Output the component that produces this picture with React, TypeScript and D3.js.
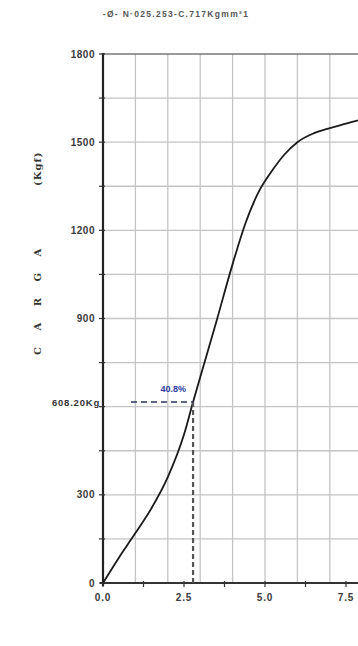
import React, { useRef, useEffect } from "react";
import * as d3 from "d3";

// lectura aproximada de la curva carga-deformacion
const deformacion = [0, 0.5, 1.0, 1.5, 2.0, 2.5, 2.78, 3.0, 3.5, 4.0, 4.4, 4.8, 5.2, 5.6, 6.0, 6.5, 7.0, 7.5, 8.0, 8.5];
const carga = [0, 88, 170, 255, 360, 505, 616, 700, 890, 1085, 1225, 1330, 1400, 1458, 1500, 1530, 1548, 1563, 1578, 1592];

const yTicks = [0, 300, 900, 1200, 1500, 1800];
const xTicks = [0, 2.5, 5, 7.5];
const xGrid = [1, 2, 3, 4, 5, 6, 7, 8, 9];
const yGrid = [150, 300, 450, 600, 750, 900, 1050, 1200, 1350, 1500, 1650];

const titulo = "-Ø- N·025.253-C.717Kgmm²1";
const ejeY = "C A R G A";
const ejeYUnidad = "(Kgf)";
const marcaX = 2.78;
const marcaY = 616;
const etiquetaCarga = "608.20Kg";
const etiquetaPct = "40.8%";

const W = 358;
const H = 646;

const App = () => {
  const ref = useRef<SVGSVGElement>(null);

  useEffect(() => {
    const svg = d3.select(ref.current);
    svg.selectAll("*").remove();

    const x = d3.scaleLinear().domain([0, 10]).range([103, 427]);
    const y = d3.scaleLinear().domain([0, 1800]).range([583, 54]);
    const font = "Arial, 'Liberation Sans', sans-serif";

    svg.append("rect").attr("width", W).attr("height", H).attr("fill", "#fff");

    const g = svg.append("g");

    // rejilla
    g.selectAll(".gx")
      .data(xGrid)
      .join("line")
      .attr("x1", (d) => x(d))
      .attr("x2", (d) => x(d))
      .attr("y1", y(1800))
      .attr("y2", y(0))
      .attr("stroke", "#c4c4c4")
      .attr("stroke-width", 1.3);

    g.selectAll(".gy")
      .data(yGrid)
      .join("line")
      .attr("x1", x(0))
      .attr("x2", W)
      .attr("y1", (d) => y(d))
      .attr("y2", (d) => y(d))
      .attr("stroke", "#c4c4c4")
      .attr("stroke-width", 1.3);

    // borde superior
    g.append("line")
      .attr("x1", x(0))
      .attr("x2", W)
      .attr("y1", y(1800))
      .attr("y2", y(1800))
      .attr("stroke", "#777")
      .attr("stroke-width", 1.6);

    // ejes
    g.append("line")
      .attr("x1", x(0))
      .attr("x2", x(0))
      .attr("y1", y(1800) - 1)
      .attr("y2", y(0) + 3)
      .attr("stroke", "#222")
      .attr("stroke-width", 2.2);
    g.append("line")
      .attr("x1", x(0) - 3)
      .attr("x2", W)
      .attr("y1", y(0))
      .attr("y2", y(0))
      .attr("stroke", "#333")
      .attr("stroke-width", 2.2);

    // marcas y etiquetas eje Y
    g.selectAll(".ty")
      .data(d3.range(0, 1801, 150))
      .join("line")
      .attr("x1", x(0) - 4)
      .attr("x2", x(0) + 2)
      .attr("y1", (d) => y(d))
      .attr("y2", (d) => y(d))
      .attr("stroke", "#333")
      .attr("stroke-width", 1.2);

    g.selectAll(".ly")
      .data(yTicks)
      .join("text")
      .attr("x", x(0) - 8)
      .attr("y", (d) => y(d) + 3.5)
      .attr("text-anchor", "end")
      .style("font-family", font)
      .style("font-size", "10px")
      .style("font-weight", "bold")
      .style("letter-spacing", "0.5px")
      .attr("fill", "#3a3a3a")
      .text((d) => d);

    // marcas y etiquetas eje X
    g.selectAll(".tx")
      .data(d3.range(0, 10.01, 1.25))
      .join("line")
      .attr("x1", (d) => x(d))
      .attr("x2", (d) => x(d))
      .attr("y1", y(0) - 2)
      .attr("y2", y(0) + 4)
      .attr("stroke", "#333")
      .attr("stroke-width", 1.2);

    g.selectAll(".lx")
      .data(xTicks)
      .join("text")
      .attr("x", (d) => x(d))
      .attr("y", y(0) + 18)
      .attr("text-anchor", "middle")
      .style("font-family", font)
      .style("font-size", "10px")
      .style("font-weight", "bold")
      .style("letter-spacing", "0.8px")
      .attr("fill", "#3a3a3a")
      .text((d) => d3.format(".1f")(d));

    // curva
    const line = d3
      .line<number>()
      .x((d, i) => x(deformacion[i]))
      .y((d) => y(d))
      .curve(d3.curveMonotoneX);

    g.append("path")
      .datum(carga)
      .attr("d", line)
      .attr("fill", "none")
      .attr("stroke", "#1a1a1a")
      .attr("stroke-width", 1.8);

    // lineas de referencia
    g.append("line")
      .attr("x1", x(marcaX))
      .attr("x2", x(marcaX))
      .attr("y1", y(marcaY))
      .attr("y2", y(0))
      .attr("stroke", "#555")
      .attr("stroke-width", 2.2)
      .attr("stroke-dasharray", "5,3");
    g.append("line")
      .attr("x1", x(0) + 28)
      .attr("x2", x(marcaX))
      .attr("y1", y(marcaY))
      .attr("y2", y(marcaY))
      .attr("stroke", "#2a3560")
      .attr("stroke-width", 1.6)
      .attr("stroke-dasharray", "6,4");

    g.append("text")
      .attr("x", x(0) - 3)
      .attr("y", y(marcaY) + 4)
      .attr("text-anchor", "end")
      .style("font-family", font)
      .style("font-size", "9.5px")
      .style("font-weight", "bold")
      .style("letter-spacing", "0.8px")
      .attr("fill", "#333")
      .text(etiquetaCarga);

    g.append("text")
      .attr("x", x(marcaX) - 7)
      .attr("y", y(marcaY) - 10)
      .attr("text-anchor", "end")
      .style("font-family", font)
      .style("font-size", "9px")
      .style("font-weight", "bold")
      .attr("fill", "#2a3aa0")
      .text(etiquetaPct);

    // titulo
    svg
      .append("text")
      .attr("x", 176)
      .attr("y", 17)
      .attr("text-anchor", "middle")
      .style("font-family", font)
      .style("font-size", "8.5px")
      .style("font-weight", "bold")
      .style("letter-spacing", "1.3px")
      .attr("fill", "#555")
      .text(titulo);

    // titulo eje Y
    const ty = svg
      .append("text")
      .attr("transform", `translate(41,0) rotate(-90)`)
      .style("font-family", "'DejaVu Serif', serif")
      .style("font-size", "10px")
      .style("font-weight", "bold")
      .attr("fill", "#333");
    ty.append("tspan")
      .attr("x", -355)
      .style("white-space", "pre")
      .style("letter-spacing", "6.5px")
      .text(ejeY);
    ty.append("tspan")
      .attr("x", -186)
      .style("letter-spacing", "1px")
      .text(ejeYUnidad);
  }, []);

  return (
    <div style={{ position: "fixed", top: 0, left: 0 }}>
      <svg ref={ref} width={W} height={H} style={{ display: "block" }} />
    </div>
  );
};

export default App;
